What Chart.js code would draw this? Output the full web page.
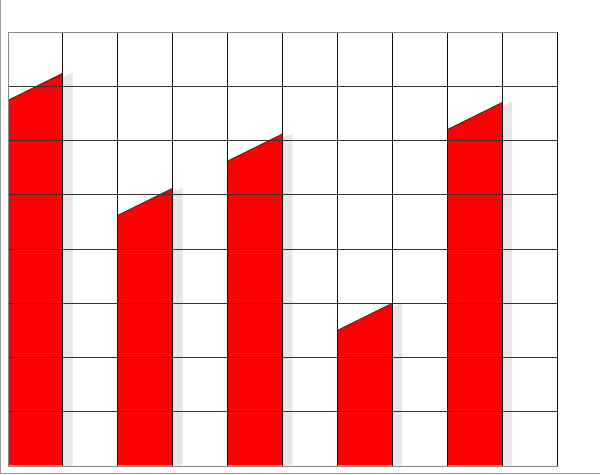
<!DOCTYPE html>
<html>
<head>
<meta charset="utf-8">
<script src="https://cdn.jsdelivr.net/npm/chart.js@4"></script>
<style>
  html, body { margin: 0; padding: 0; background: #fff; }
  #wrap { width: 600px; height: 475px; position: relative; }
</style>
</head>
<body>
<div id="wrap"><canvas id="chart"></canvas></div>
<script>
// -------------------------------
// DATA
// -------------------------------
const categories = ["1", "2", "3", "4", "5", "6", "7", "8", "9", "10"];
const values = [72.4, null, 51.2, null, 61.2, null, 30, null, 67, null];
const yTicks = [0, 10, 20, 30, 40, 50, 60, 70, 80];

// how far the left corner of each bar top drops, in axis units
const slant = 5;

const barColor = "#ff0000";
const shadowColor = "#e6e6e6";
const borderGrey = "#8a8a8a";

// -------------------------------
// PLUGINS
// -------------------------------
function barShape(ctx, bar, yScale, value, dx, dy) {
    const p = bar.getProps(["x", "y", "base", "width"], true);
    const left = p.x - p.width / 2 + dx;
    const right = p.x + p.width / 2 + dx;
    const topRight = p.y + dy;
    const topLeft = yScale.getPixelForValue(value - slant) + dy;
    ctx.beginPath();
    ctx.moveTo(left, p.base);
    ctx.lineTo(left, topLeft);
    ctx.lineTo(right, topRight);
    ctx.lineTo(right, p.base);
    ctx.closePath();
    return { left, right, topLeft, topRight };
}

const slantBars = {
    id: "slantBars",
    afterDatasetsDraw(chart) {
        const ctx = chart.ctx;
        const meta = chart.getDatasetMeta(0);
        const yScale = chart.scales.y;
        const area = chart.chartArea;
        ctx.save();
        ctx.beginPath();
        ctx.rect(area.left, area.top, area.right - area.left + 20, area.bottom - area.top);
        ctx.clip();

        // shadows first
        meta.data.forEach((bar, i) => {
            if (values[i] == null) return;
            barShape(ctx, bar, yScale, values[i], 10, -1);
            ctx.fillStyle = shadowColor;
            ctx.fill();
        });

        // bars
        meta.data.forEach((bar, i) => {
            if (values[i] == null) return;
            const s = barShape(ctx, bar, yScale, values[i], 0, 0);
            ctx.fillStyle = barColor;
            ctx.fill();
            ctx.beginPath();
            ctx.moveTo(s.left, s.topLeft);
            ctx.lineTo(s.right, s.topRight);
            ctx.strokeStyle = "#222";
            ctx.lineWidth = 1;
            ctx.stroke();
        });
        ctx.restore();
    }
};

const pageFrame = {
    id: "pageFrame",
    afterDraw(chart) {
        const ctx = chart.ctx;
        ctx.save();
        ctx.strokeStyle = "#999";
        ctx.lineWidth = 1;
        ctx.beginPath();
        ctx.moveTo(0.5, 0);
        ctx.lineTo(0.5, 474);
        ctx.moveTo(0, 473.5);
        ctx.lineTo(600, 473.5);
        ctx.stroke();
        ctx.restore();
    }
};

// -------------------------------
// CHART
// -------------------------------
new Chart(document.getElementById("chart"), {
    type: "bar",
    data: {
        labels: categories,
        datasets: [{
            data: values,
            backgroundColor: "rgba(0,0,0,0)",
            borderWidth: 0,
            categoryPercentage: 1,
            barPercentage: 1
        }]
    },
    options: {
        responsive: true,
        maintainAspectRatio: false,
        animation: false,
        layout: { padding: { left: 8, top: 32, right: 43, bottom: 9 } },
        plugins: { legend: { display: false }, tooltip: { enabled: false } },
        scales: {
            x: {
                ticks: { display: false },
                grid: {
                    z: 1,
                    drawTicks: false,
                    lineWidth: 1,
                    color: c => (c.index === 0 || c.index === categories.length) ? borderGrey : "#111"
                },
                border: { z: 1, color: borderGrey, width: 1 }
            },
            y: {
                min: yTicks[0],
                max: yTicks[yTicks.length - 1],
                ticks: { display: false, stepSize: yTicks[1] - yTicks[0] },
                grid: {
                    z: 1,
                    drawTicks: false,
                    lineWidth: 1,
                    color: c => (c.index === 0 || c.index === yTicks.length - 1) ? borderGrey : "#333"
                },
                border: { z: 1, color: borderGrey, width: 1 }
            }
        }
    },
    plugins: [slantBars, pageFrame]
});
</script>
</body>
</html>
